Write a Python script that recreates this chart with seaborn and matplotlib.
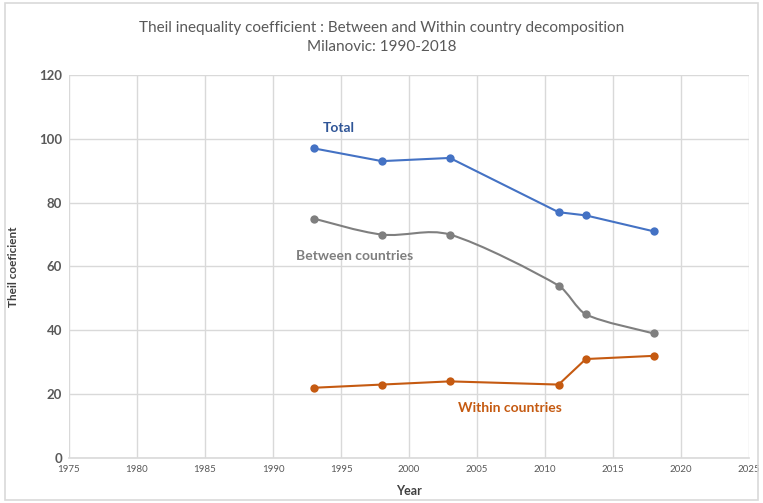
import numpy as np
import pandas as pd
import matplotlib
matplotlib.use("Agg")
import matplotlib.pyplot as plt
from matplotlib.path import Path
from matplotlib.patches import PathPatch, Rectangle
import seaborn as sns

years = [1993, 1998, 2003, 2011, 2013, 2018]
total = [97, 93, 94, 77, 76, 71]
between = [75, 70, 70, 54, 45, 39]
within = [22, 23, 24, 23, 31, 32]

x_ticks = list(range(1975, 2030, 5))
y_ticks = list(range(0, 140, 20))

BLUE = "#4472C4"
GREY = "#7F7F7F"
ORANGE = "#C55A11"
TEXT = "#595959"
GRID = "#D9D9D9"


def smooth_path(xs, ys):
    # Excel-like smoothed line: Catmull-Rom handles, clamped so that
    # no handle reaches more than a third of its segment in x
    pts = np.column_stack([xs, ys]).astype(float)
    n = len(pts)

    def handle(i, seg_dx):
        h = (pts[min(i + 1, n - 1)] - pts[max(i - 1, 0)]) / 6
        lim = seg_dx / 3
        if abs(h[0]) > lim:
            h = h * lim / abs(h[0])
        return h

    verts = [tuple(pts[0])]
    codes = [Path.MOVETO]
    for i in range(n - 1):
        dx = pts[i + 1][0] - pts[i][0]
        c1 = pts[i] + handle(i, dx)
        c2 = pts[i + 1] - handle(i + 1, dx)
        verts += [tuple(c1), tuple(c2), tuple(pts[i + 1])]
        codes += [Path.CURVE4] * 3
    return Path(verts, codes)


sns.set_theme(style="white")
plt.rcParams["font.family"] = ["Lato", "DejaVu Sans"]

df = pd.DataFrame({
    "Year": years * 2,
    "value": total + within,
    "series": ["Total"] * len(years) + ["Within countries"] * len(years),
})

fig = plt.figure(figsize=(7.63, 5.03), dpi=100)
ax = fig.add_axes([0.0904, 0.0895, 0.8913, 0.7615])

sns.lineplot(data=df, x="Year", y="value", hue="series",
             palette={"Total": BLUE, "Within countries": ORANGE},
             marker="o", markersize=6, markeredgewidth=0, linewidth=1.5,
             legend=False, ax=ax, zorder=3)

ax.add_patch(PathPatch(smooth_path(years, between), facecolor="none",
                       edgecolor=GREY, linewidth=1.5, zorder=3))
sns.scatterplot(x=years, y=between, color=GREY, s=36, linewidth=0,
                ax=ax, zorder=4)

ax.set_xlim(1975, 2025)
ax.set_ylim(0, 120)
ax.set_xticks(x_ticks)
ax.set_yticks(y_ticks)
ax.set_xticklabels([str(t) for t in x_ticks], fontsize=7, color=TEXT)
ax.set_yticklabels([str(t) for t in y_ticks], fontsize=9.5, color=TEXT,
                   fontweight="bold")
ax.tick_params(axis="both", length=0, pad=5)
ax.grid(True, color=GRID, linewidth=1)
ax.set_axisbelow(True)
for side in ["top", "right", "left"]:
    ax.spines[side].set_visible(False)
ax.spines["bottom"].set_color(GRID)
ax.spines["bottom"].set_linewidth(1.2)

ax.set_xlabel("Year", fontsize=9, color="#404040", fontweight="bold", labelpad=8)
ax.set_ylabel("Theil coeficient", fontsize=8.5, color="#404040",
              fontweight="bold", labelpad=14)

ax.text(1994.8, 103.5, "Total", color="#2F5597", fontsize=10,
        fontweight="bold", ha="center", va="center")
ax.text(1996.0, 63.4, "Between countries", color=GREY, fontsize=10,
        fontweight="bold", ha="center", va="center")
ax.text(2007.4, 15.8, "Within countries", color=ORANGE, fontsize=10,
        fontweight="bold", ha="center", va="center")

fig.text(0.5, 0.945, "Theil inequality coefficient : Between and Within country decomposition",
         ha="center", va="center", fontsize=11, color=TEXT)
fig.text(0.5, 0.906, "Milanovic: 1990-2018", ha="center", va="center",
         fontsize=11, color=TEXT)

fig.patches.append(Rectangle((0.006, 0.006), 0.988, 0.988, transform=fig.transFigure,
                             fill=False, edgecolor=GRID, linewidth=1.2))

fig.savefig("out.png", dpi=100, facecolor="white")
